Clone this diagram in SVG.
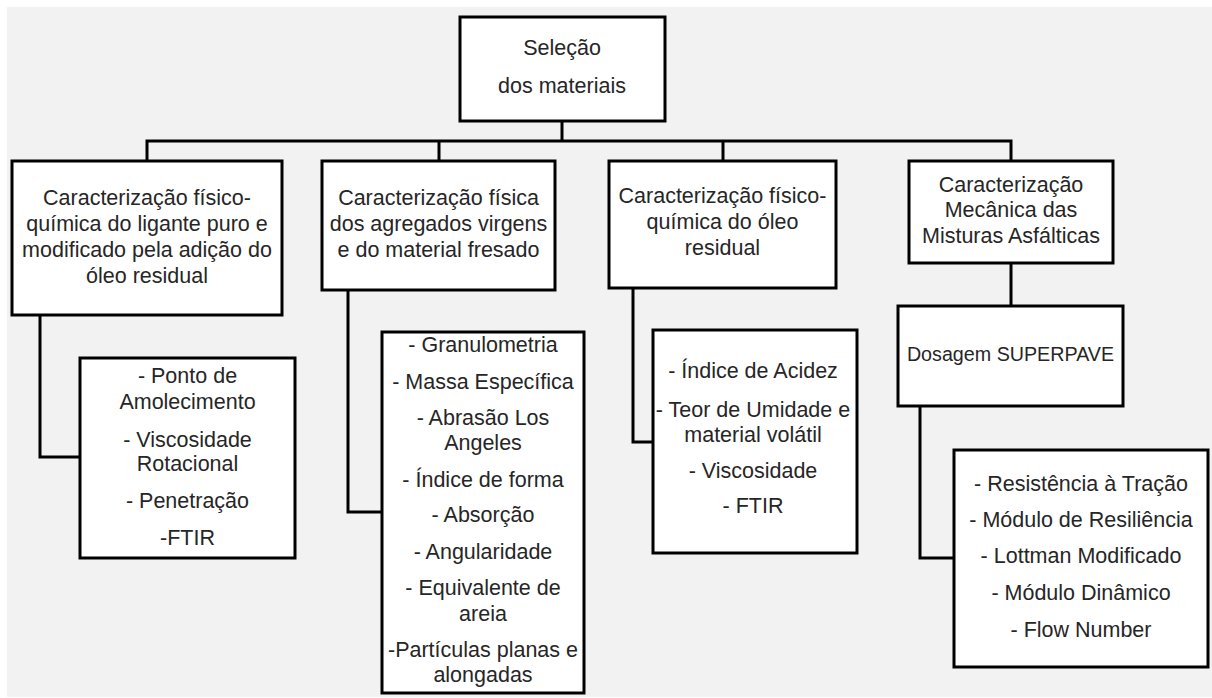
<svg xmlns="http://www.w3.org/2000/svg" width="1212" height="698" viewBox="0 0 1212 698">
<style>
.box{fill:#fff;stroke:#000;stroke-width:3}
.ln{fill:none;stroke:#000;stroke-width:3}
text{font-family:"Liberation Sans",Arial,sans-serif;font-size:21.5px;fill:#262626;text-anchor:middle}
.caps{font-size:19.7px}
</style>
<rect x="0" y="0" width="1212" height="698" fill="#fff"/>
<rect x="7" y="7" width="1205" height="690" fill="#f2f2f2"/>
<g id="connectors">
<path class="ln" d="M562 121V141M147 161V141H1011V161M439 141V161M723 141V161"/>
<path class="ln" d="M40 315V457H80"/>
<path class="ln" d="M348 290V512H382"/>
<path class="ln" d="M633 288V442H653"/>
<path class="ln" d="M1011 263V306"/>
<path class="ln" d="M920 406V558H954"/>
</g>
<g id="selecao">
<rect class="box" x="460" y="17" width="205" height="104"/>
<text x="562" y="55">Seleção</text>
<text x="562" y="93">dos materiais</text>
</g>
<g id="carac-ligante">
<rect class="box" x="12" y="161" width="270" height="154"/>
<text x="147" y="205">Caracterização físico-</text>
<text x="147" y="231">química do ligante puro e</text>
<text x="147" y="257">modificado pela adição do</text>
<text x="147" y="283">óleo residual</text>
</g>
<g id="carac-agregados">
<rect class="box" x="322" y="161" width="233" height="129"/>
<text x="438.5" y="205">Caracterização física</text>
<text x="438.5" y="231">dos agregados virgens</text>
<text x="438.5" y="257">e do material fresado</text>
</g>
<g id="carac-oleo">
<rect class="box" x="609" y="161" width="227" height="127"/>
<text x="722.5" y="203">Caracterização físico-</text>
<text x="722.5" y="229">química do óleo</text>
<text x="722.5" y="255">residual</text>
</g>
<g id="carac-mecanica">
<rect class="box" x="909" y="161" width="204" height="102"/>
<text x="1011" y="192">Caracterização</text>
<text x="1011" y="217">Mecânica das</text>
<text x="1011" y="243">Misturas Asfálticas</text>
</g>
<g id="dosagem">
<rect class="box" x="898" y="306" width="225" height="100"/>
<text class="caps" x="1010.5" y="361">Dosagem SUPERPAVE</text>
</g>
<g id="ensaios-ligante">
<rect class="box" x="80" y="358" width="215" height="200"/>
<text x="187.5" y="383">- Ponto de</text>
<text x="187.5" y="409">Amolecimento</text>
<text x="187.5" y="447">- Viscosidade</text>
<text x="187.5" y="471">Rotacional</text>
<text x="187.5" y="508">- Penetração</text>
<text x="187.5" y="545">-FTIR</text>
</g>
<g id="ensaios-agregados">
<rect class="box" x="382" y="332" width="202" height="361"/>
<text x="483" y="352">- Granulometria</text>
<text x="483" y="389">- Massa Específica</text>
<text x="483" y="425">- Abrasão Los</text>
<text x="483" y="450">Angeles</text>
<text x="483" y="487">- Índice de forma</text>
<text x="483" y="522">- Absorção</text>
<text x="483" y="559">- Angularidade</text>
<text x="483" y="595">- Equivalente de</text>
<text x="483" y="621">areia</text>
<text x="483" y="657">-Partículas planas e</text>
<text x="483" y="682">alongadas</text>
</g>
<g id="ensaios-oleo">
<rect class="box" x="653" y="330" width="204" height="223"/>
<text x="753" y="378">- Índice de Acidez</text>
<text x="753" y="417">- Teor de Umidade e</text>
<text x="753" y="442">material volátil</text>
<text x="753" y="478">- Viscosidade</text>
<text x="753" y="513">- FTIR</text>
</g>
<g id="ensaios-misturas">
<rect class="box" x="954" y="450" width="254" height="217"/>
<text x="1081" y="491">- Resistência à Tração</text>
<text x="1081" y="527">- Módulo de Resiliência</text>
<text x="1081" y="563">- Lottman Modificado</text>
<text x="1081" y="600">- Módulo Dinâmico</text>
<text x="1081" y="637">- Flow Number</text>
</g>
</svg>
